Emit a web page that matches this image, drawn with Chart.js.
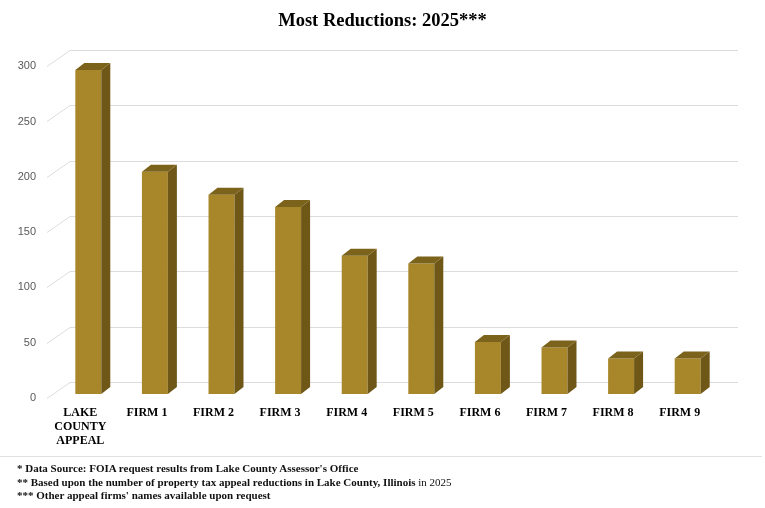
<!DOCTYPE html>
<html>
<head>
<meta charset="utf-8">
<script src="https://cdn.jsdelivr.net/npm/chart.js@4.4.1/dist/chart.umd.min.js"></script>
<style>
    body { margin: 0; background: #fff; }
    .chartWrapper { position: absolute; left: 0; top: 0; width: 765px; height: 460px; }
    .notes {
        position: absolute; left: 0; top: 456px; width: 745px; height: 50px;
        border-top: 1px solid #e2e2e2; padding: 5px 0 0 17px;
        font-family: "Liberation Serif", "Times New Roman", serif;
        font-size: 11px; font-weight: bold; line-height: 13.5px; color: #111;
    }
    .notes .plain { font-weight: normal; }
</style>
</head>
<body>
<div class="chartWrapper"><canvas id="myChart"></canvas></div>
<div class="notes">
    <div>* Data Source: FOIA request results from Lake County Assessor's Office</div>
    <div>** Based upon the number of property tax appeal reductions in Lake County, Illinois <span class="plain">in 2025</span></div>
    <div>*** Other appeal firms' names available upon request</div>
</div>
<script>
// カテゴリと値
var firmLabels = [['LAKE', 'COUNTY', 'APPEAL'], 'FIRM 1', 'FIRM 2', 'FIRM 3', 'FIRM 4', 'FIRM 5', 'FIRM 6', 'FIRM 7', 'FIRM 8', 'FIRM 9'];
var reductionCounts = [293, 201, 180, 169, 125, 118, 47, 42, 32, 32];
var yTickValues = [0, 50, 100, 150, 200, 250, 300];

var frontColor = '#a8872a';
var sideColor = '#6e5717';
var topColor = '#7c631b';
var depthX = 9;   // 奥行き
var depthY = 7;

// 奥の壁のグリッド線
var wallGrid = {
    id: 'wallGrid',
    beforeDatasetsDraw: function (chart) {
        var ctx = chart.ctx;
        var area = chart.chartArea;
        var y = chart.scales.y;
        ctx.save();
        ctx.strokeStyle = '#dcdcdc';
        ctx.lineWidth = 1;
        yTickValues.forEach(function (v) {
            var py = Math.round(y.getPixelForValue(v)) + 0.5;
            ctx.beginPath();
            ctx.moveTo(area.left - 8, py + 4);
            ctx.lineTo(area.left + 15, py - 12);
            ctx.lineTo(area.right + 17, py - 12);
            ctx.stroke();
        });
        ctx.restore();
    }
};

// 3Dの側面と上面
var bar3d = {
    id: 'bar3d',
    afterDatasetsDraw: function (chart) {
        var ctx = chart.ctx;
        var meta = chart.getDatasetMeta(0);
        ctx.save();
        meta.data.forEach(function (bar) {
            var p = bar.getProps(['x', 'y', 'base', 'width'], true);
            var left = p.x - p.width / 2;
            var right = p.x + p.width / 2;
            ctx.fillStyle = sideColor;
            ctx.beginPath();
            ctx.moveTo(right, p.y);
            ctx.lineTo(right + depthX, p.y - depthY);
            ctx.lineTo(right + depthX, p.base - depthY);
            ctx.lineTo(right, p.base);
            ctx.closePath();
            ctx.fill();
            ctx.fillStyle = topColor;
            ctx.beginPath();
            ctx.moveTo(left, p.y);
            ctx.lineTo(left + depthX, p.y - depthY);
            ctx.lineTo(right + depthX, p.y - depthY);
            ctx.lineTo(right, p.y);
            ctx.closePath();
            ctx.fill();
        });
        ctx.restore();
    }
};

var ctx = document.getElementById('myChart').getContext('2d');
var config = {
    type: 'bar',
    data: {
        labels: firmLabels,
        datasets: [{
            data: reductionCounts,
            backgroundColor: frontColor,
            borderWidth: 0,
            barPercentage: 0.39,
            categoryPercentage: 1.0
        }]
    },
    options: {
        responsive: true,
        maintainAspectRatio: false,
        animation: false,
        layout: { padding: 0 },
        plugins: {
            legend: { display: false },
            tooltip: { enabled: false },
            title: {
                display: true,
                text: 'Most Reductions: 2025***',
                color: '#000',
                font: { family: '"Liberation Serif", "Times New Roman", serif', size: 18.5, weight: 'bold' },
                padding: { top: 10, bottom: 30 }
            }
        },
        scales: {
            x: {
                grid: { display: false, drawTicks: false },
                border: { display: false },
                ticks: {
                    color: '#000',
                    padding: 12,
                    labelOffset: -8,
                    maxRotation: 0,
                    autoSkip: false,
                    font: { family: '"Liberation Serif", "Times New Roman", serif', size: 12, weight: 'bold', lineHeight: 1.17 }
                }
            },
            y: {
                min: 0,
                max: 300,
                afterFit: function (scale) { scale.width = 55; },
                grid: { display: false, drawTicks: false },
                border: { display: false },
                ticks: {
                    stepSize: 50,
                    color: '#595959',
                    padding: 19,
                    labelOffset: 4,
                    font: { family: '"Liberation Sans", Arial, sans-serif', size: 11 }
                }
            },
            // 右側の余白用
            yRight: {
                position: 'right',
                afterFit: function (scale) { scale.width = 44; },
                grid: { display: false, drawTicks: false },
                border: { display: false },
                ticks: { display: false }
            }
        }
    },
    plugins: [wallGrid, bar3d]
};
var myChart = new Chart(ctx, config);
</script>
</body>
</html>
